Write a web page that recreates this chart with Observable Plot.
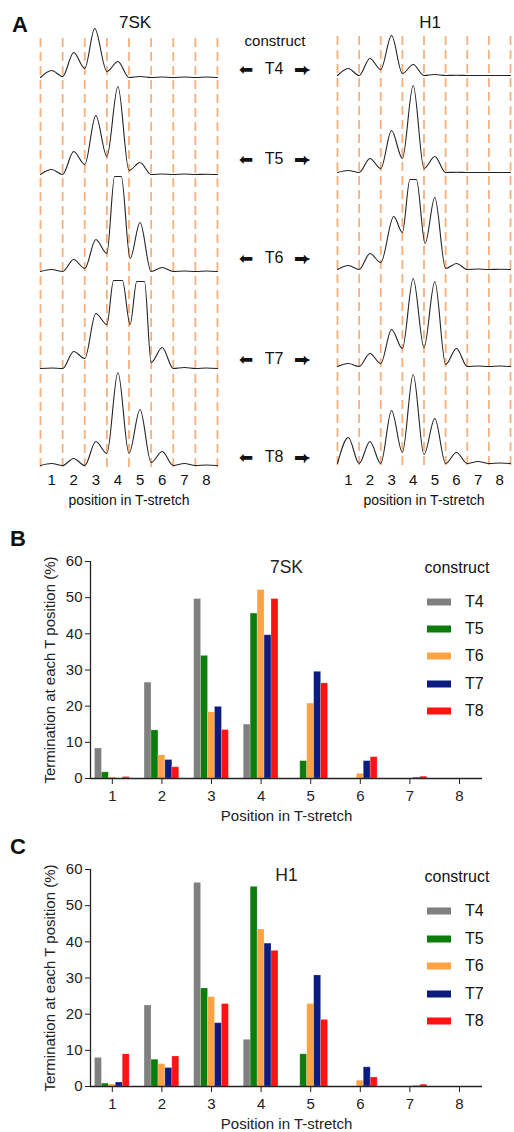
<!DOCTYPE html>
<html><head><meta charset="utf-8">
<script src="https://cdn.jsdelivr.net/npm/d3@7"></script>
<script src="https://cdn.jsdelivr.net/npm/@observablehq/plot@0.6"></script>
<style>
body{margin:0;background:#fff;font-family:"Liberation Sans",Arial,sans-serif;}
#page{position:relative;width:514px;height:1132px;overflow:hidden;background:#fff;}
.abs{position:absolute;top:0;}
.lbl{position:absolute;transform:translate(-50%,-50%);white-space:nowrap;color:#111;line-height:1;}
.lft{position:absolute;transform:translate(0,-50%);white-space:nowrap;color:#111;line-height:1;}
.rot{position:absolute;transform:translate(-50%,-50%) rotate(-90deg);white-space:nowrap;color:#222;line-height:1;}
.sw{position:absolute;width:24px;height:7px;transform:translate(0,-50%);}
</style></head><body><div id="page"></div>
<script>
// ---------- categories ----------
const positions = [1, 2, 3, 4, 5, 6, 7, 8];
const constructs = ["T4", "T5", "T6", "T7", "T8"];
const colors = ["#808080", "#0c7c0c", "#ffa244", "#0b1b80", "#ff1212"];
const boundaries = [0.5, 1.5, 2.5, 3.5, 4.5, 5.5, 6.5, 7.5, 8.5];
const yTicks = [0, 10, 20, 30, 40, 50, 60];

// ---------- panel B: 7SK termination (%) per position, one array per construct ----------
const sk7_T4 = [8.3, 26.5, 49.6, 14.9, 0, 0, 0, 0];
const sk7_T5 = [1.7, 13.3, 33.9, 45.6, 4.8, 0, 0, 0];
const sk7_T6 = [0.3, 6.4, 18.3, 52.1, 20.7, 1.3, 0, 0];
const sk7_T7 = [0, 5.1, 19.8, 39.6, 29.5, 4.8, 0.2, 0];
const sk7_T8 = [0.4, 3.1, 13.4, 49.6, 26.3, 5.9, 0.5, 0];

// ---------- panel C: H1 termination (%) ----------
const h1_T4 = [7.9, 22.4, 56.3, 12.9, 0, 0, 0, 0];
const h1_T5 = [0.8, 7.4, 27.1, 55.2, 8.9, 0, 0, 0];
const h1_T6 = [0.55, 6.2, 24.7, 43.4, 22.8, 1.6, 0, 0];
const h1_T7 = [1.1, 5.1, 17.5, 39.5, 30.7, 5.3, 0.1, 0];
const h1_T8 = [8.9, 8.3, 22.8, 37.5, 18.4, 2.5, 0.5, 0];

// ---------- panel A: trace samples [position, signal] ----------
const tr7SK_T4 = [[0.5,0],[1,7],[1.5,1],[2,25],[2.5,9],[2.95,49],[3.5,6],[4,16],[4.5,0],[5,1],[5.5,0],[6,0.5],[6.5,0],[7,0.5],[7.5,0],[8,0.5],[8.5,0]];
const tr7SK_T5 = [[0.5,0],[1,5],[1.5,0],[2,23],[2.5,10],[3,59],[3.5,18],[4,88],[4.5,4],[5,12],[5.5,0],[6,0.5],[6.5,0],[7,0.5],[7.5,0],[8,0.3],[8.5,0]];
const tr7SK_T6 = [[0.5,0],[1,2],[1.5,0],[2,12],[2.5,3],[3,32],[3.5,18],[3.85,95],[4.15,95],[4.55,13],[5,49],[5.5,0],[6,4],[6.5,0],[7,0.5],[7.5,0],[8,0.5],[8.5,0]];
const tr7SK_T7 = [[0.5,0],[1,0.5],[1.5,0],[2,17],[2.5,10],[3,55],[3.5,44],[3.8,88],[4.2,88],[4.55,44],[4.85,87],[5.2,87],[5.5,6],[6,21],[6.5,0],[7,1],[7.5,0],[8,0.5],[8.5,0]];
const tr7SK_T8 = [[0.5,0],[1,2],[1.5,0],[2,7],[2.5,0],[3,24],[3.5,12],[4,93],[4.5,12],[5,56],[5.5,3],[6,14],[6.5,0],[7,2],[7.5,0],[8,0.5],[8.5,0]];
const trH1_T4 = [[0.5,0],[1,7],[1.5,0],[2,17],[2.5,6],[3,40],[3.5,2],[4,11],[4.5,0],[5,1],[5.5,0],[6,0.3],[6.5,0],[7,0],[7.5,0],[8,0],[8.5,0]];
const trH1_T5 = [[0.5,0],[1,2],[1.5,0],[2,14],[2.5,4],[3,42],[3.5,14],[4,87],[4.5,4],[5,16],[5.5,0],[6,0.3],[6.5,0],[7,0],[7.5,0],[8,0],[8.5,0]];
const trH1_T6 = [[0.5,0],[1,4],[1.5,0],[2,16],[2.5,7],[3.1,53],[3.5,37],[3.85,90],[4.15,90],[4.55,26],[5,72],[5.5,1],[6,6],[6.5,0],[7,0.5],[7.5,0],[8,0.3],[8.5,0]];
const trH1_T7 = [[0.5,0],[1,3],[1.5,0],[2,13],[2.5,3],[3,37],[3.5,18],[4,88],[4.5,19],[5,85],[5.5,2],[6,18],[6.5,0],[7,0.5],[7.5,0],[8,0.5],[8.5,0]];
const trH1_T8 = [[0.5,0],[1,26],[1.5,0],[2,22],[2.5,0],[3,53],[3.5,11],[4,89],[4.5,9],[5,45],[5.5,0],[6,11],[6.5,0],[7,2],[7.5,0],[8,0.5],[8.5,0]];

const page = document.getElementById("page");
const FONT = '"Liberation Sans", Arial, sans-serif';

function place(node, left, top) {
  node.classList.add("abs");
  node.style.left = left + "px";
  node.style.top = top + "px";
  page.appendChild(node);
}
function label(text, x, y, css, cls = "lbl") {
  const d = document.createElement("div");
  d.className = cls;
  d.textContent = text;
  d.style.left = x + "px";
  d.style.top = y + "px";
  d.style.cssText += css;
  page.appendChild(d);
  return d;
}

// ---------- Panel A traces ----------
function traceChart(traces, title, xRange, yRange, width, titleDx) {
  const rows = [];
  traces.forEach((tr, r) => tr.forEach(([x, h]) => rows.push({row: r, x, v: h + (traces.length - 1 - r) * 97})));
  return Plot.plot({
    width, height: 510,
    marginLeft: xRange[0], marginRight: width - xRange[1],
    marginTop: 35, marginBottom: 42,
    x: {domain: [0.5, 8.5], range: xRange, axis: null},
    y: {domain: [0, 430], range: yRange, axis: null},
    style: {fontFamily: FONT, fontSize: "15px", color: "#111", background: "transparent"},
    marks: [
      Plot.ruleX(boundaries, {y1: -2, y2: 430, stroke: "#f8b07c", strokeWidth: 1.8, strokeDasharray: "9,5"}),
      Plot.line(rows, {x: "x", y: "v", z: "row", curve: "monotone-x", stroke: "#222", strokeWidth: 1.1}),
      Plot.axisX(positions, {tickSize: 0, tickPadding: 6, label: null, tickFormat: d => d}),
      Plot.text([title], {frameAnchor: "top", lineAnchor: "middle", dy: -13, dx: titleDx, fontSize: 17}),
      Plot.text(["position in T-stretch"], {frameAnchor: "bottom", lineAnchor: "middle", dy: 32, fontSize: 14})
    ]
  });
}

const left = traceChart([tr7SK_T4, tr7SK_T5, tr7SK_T6, tr7SK_T7, tr7SK_T8], "7SK",
  [40, 217], [465, 35], 230, 6);
place(left, 0, 0);
const right = traceChart([trH1_T4, trH1_T5, trH1_T6, trH1_T7, trH1_T8], "H1",
  [17, 190], [463, 33], 194, 6);
place(right, 320, 0);

// middle construct labels
label("construct", 275, 40, "font-size:15px;");
const arrowYs = [69, 159, 258, 359, 457];
constructs.forEach((c, i) => {
  label("\u2B05", 246, arrowYs[i], `font-size:17px;font-family:"DejaVu Sans",sans-serif;`);
  label(c, 274, arrowYs[i], "font-size:16px;");
  label("\u2B95", 302, arrowYs[i], `font-size:17px;font-family:"DejaVu Sans",sans-serif;`);
});

// ---------- Panels B and C bars ----------
function barChart(series, title) {
  const rows = [];
  series.forEach((vals, k) => vals.forEach((v, i) => rows.push({pos: positions[i], construct: constructs[k], k, value: v})));
  const group = 0.7, bw = group / constructs.length;
  const x0 = 0.56;
  return Plot.plot({
    width: 514, height: 295,
    marginLeft: 90, marginRight: 32, marginTop: 31, marginBottom: 47,
    x: {domain: [x0, 8.464]},
    y: {domain: [0, 60]},
    color: {domain: constructs, range: colors},
    style: {fontFamily: FONT, fontSize: "15px", color: "#222", background: "transparent"},
    marks: [
      Plot.rectY(rows, {
        x1: d => d.pos - group / 2 + d.k * bw,
        x2: d => d.pos - group / 2 + (d.k + 1) * bw,
        y1: 0, y2: "value", fill: "construct",
        stroke: "white", strokeOpacity: 0.25, strokeWidth: 0.8
      }),
      Plot.ruleY([0], {stroke: "#222", strokeWidth: 1.3}),
      Plot.ruleX([x0], {stroke: "#222", strokeWidth: 1.3}),
      Plot.axisY(yTicks, {tickSize: 5, tickPadding: 3, label: null}),
      Plot.axisX(positions, {tickSize: 6, tickPadding: 6, label: null, tickFormat: d => d}),
      Plot.text([title], {frameAnchor: "top", lineAnchor: "middle", dy: 6, fontSize: 17.5}),
      Plot.text(["Position in T-stretch"], {frameAnchor: "bottom", lineAnchor: "middle", dy: 38, fontSize: 15})
    ]
  });
}

const chartB = barChart([sk7_T4, sk7_T5, sk7_T6, sk7_T7, sk7_T8], "7SK");
place(chartB, 0, 530);
const chartC = barChart([h1_T4, h1_T5, h1_T6, h1_T7, h1_T8], "H1");
place(chartC, 0, 838);

// y-axis titles
label("Termination at each T position (%)", 49, 670, "font-size:15px;", "rot");
label("Termination at each T position (%)", 49, 978, "font-size:15px;", "rot");

// legends
function legend(topY, step) {
  label("construct", 457, topY, "font-size:16px;");
  constructs.forEach((c, i) => {
    const y = topY + 34 + i * step;
    const s = document.createElement("div");
    s.className = "sw";
    s.style.left = "427px";
    s.style.top = y + "px";
    s.style.background = colors[i];
    page.appendChild(s);
    label(c, 465, y, "font-size:16px;", "lft");
  });
}
legend(568, 27.2);
legend(877, 27.6);

// panel letters
label("A", 20, 25, "font-size:22px;font-weight:bold;");
label("B", 18, 539, "font-size:22px;font-weight:bold;");
label("C", 18, 847, "font-size:22px;font-weight:bold;");
</script></body></html>
